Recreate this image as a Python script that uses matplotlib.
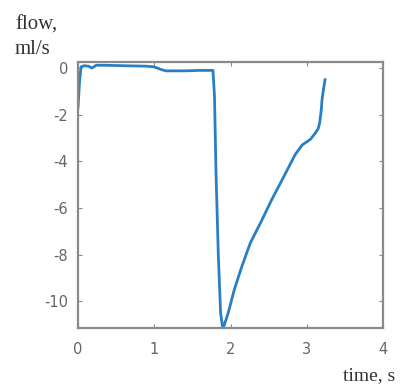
import numpy as np
import matplotlib.pyplot as plt

plt.rcParams['axes.unicode_minus'] = False

# flow trace
time_s = [0.0, 0.02, 0.04, 0.08, 0.14, 0.18, 0.24, 0.35, 0.6, 0.9, 1.0, 1.08,
          1.15, 1.4, 1.6, 1.77, 1.79, 1.81, 1.84, 1.87, 1.90, 1.93, 1.97,
          2.05, 2.15, 2.26, 2.4, 2.54, 2.7, 2.85, 2.94, 3.05, 3.11, 3.15,
          3.17, 3.19, 3.2, 3.22, 3.24]
flow_mls = [-1.7, -0.6, 0.05, 0.1, 0.08, 0.0, 0.12, 0.12, 0.1, 0.08, 0.05,
            -0.05, -0.12, -0.12, -0.1, -0.1, -1.2, -4.5, -8.0, -10.5, -11.2,
            -10.9, -10.5, -9.5, -8.5, -7.5, -6.6, -5.65, -4.65, -3.7, -3.3,
            -3.05, -2.8, -2.6, -2.35, -1.8, -1.37, -0.9, -0.5]

x_ticks = [0, 1, 2, 3, 4]
y_ticks = [0, -2, -4, -6, -8, -10]

fig = plt.figure(figsize=(4.0, 3.87), dpi=100)
ax = fig.add_axes([78 / 400, 1 - 328 / 387, 305 / 400, 266 / 387])

ax.plot(time_s, flow_mls, color='#2a7fc4', lw=2.0)

ax.set_xlim(0, 4)
ax.set_ylim(-11.15, 0.26)
ax.set_xticks(x_ticks)
ax.set_yticks(y_ticks)
ax.tick_params(direction='in', length=3, colors='#8a8a8a', labelcolor='#666666',
               labelsize=10.5, top=True, right=True, pad=7)
ax.tick_params(axis='x', pad=10)
for s in ax.spines.values():
    s.set_color('#8a8a8a')
    s.set_linewidth(1.6)

# axis captions in serif, placed by baseline
serif = ['Liberation Serif', 'DejaVu Serif']
cap = dict(family=serif, fontsize=15, color='#333333', ha='left', va='baseline')
fig.text(15 / 400, 1 - 30 / 387, 'flow,', **cap)
fig.text(15 / 400, 1 - 54 / 387, 'ml/s', **cap)
fig.text(343 / 400, 1 - 380 / 387, 'time, s', **dict(cap, fontsize=14))

fig.savefig('out.png', dpi=100)
